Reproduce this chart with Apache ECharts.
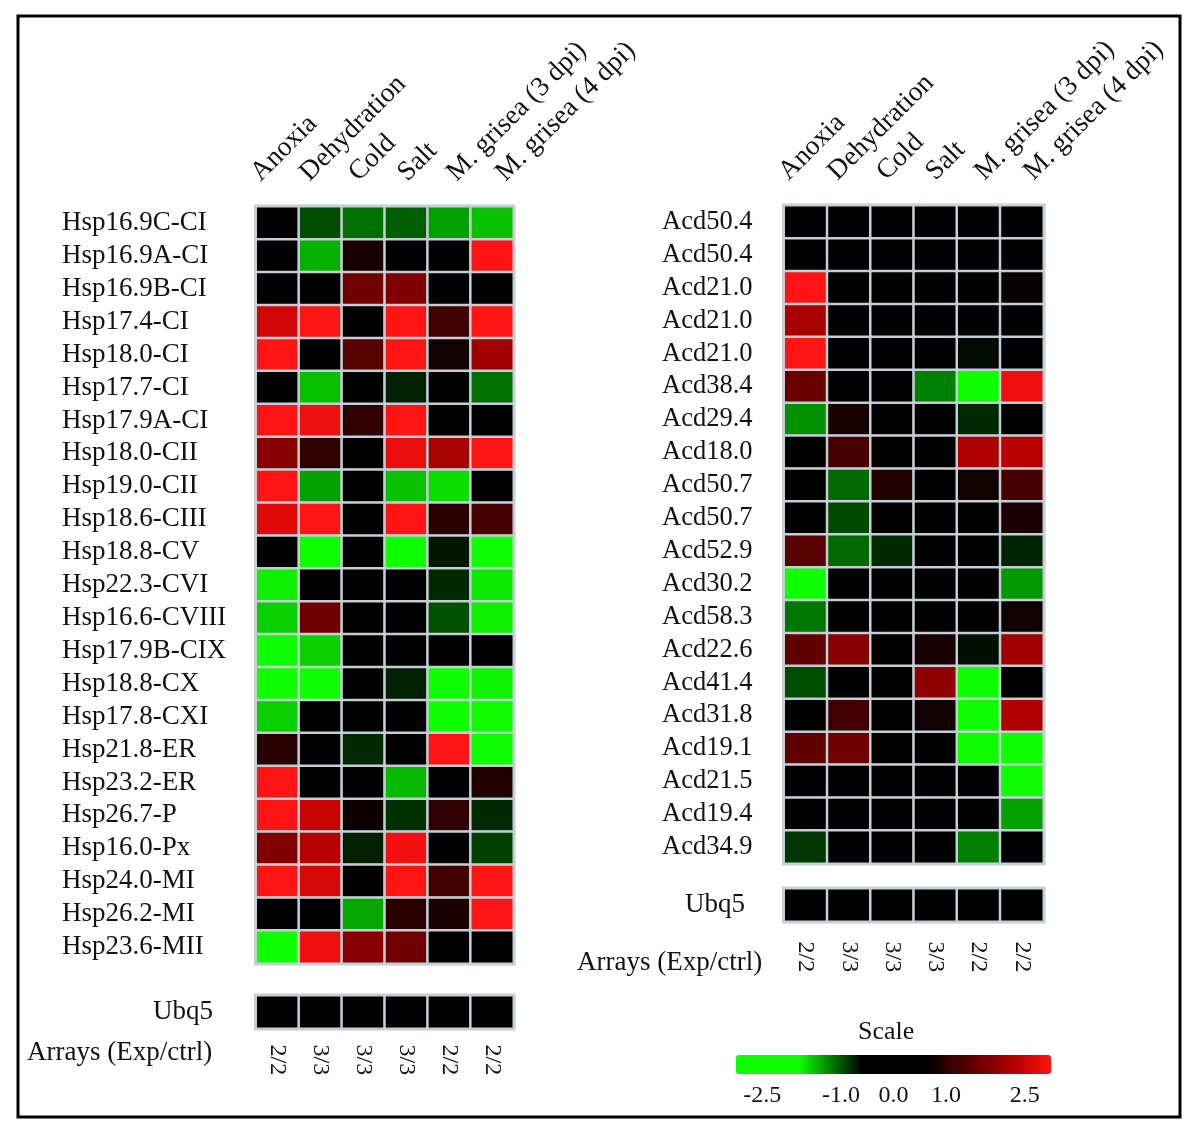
<!DOCTYPE html>
<html>
<head>
<meta charset="utf-8">
<script src="https://cdn.jsdelivr.net/npm/echarts@6/dist/echarts.min.js"></script>
<style>
html,body{margin:0;padding:0;background:#fff;}
#chart{width:1200px;height:1136px;}
</style>
</head>
<body>
<div id="chart"></div>
<script>
// ---------- data ----------
const conditions = ['Anoxia', 'Dehydration', 'Cold', 'Salt', 'M. grisea (3 dpi)', 'M. grisea (4 dpi)'];
const arrayCounts = ['2/2', '3/3', '3/3', '3/3', '2/2', '2/2'];
const scaleTicks = [-2.5, -1.0, 0.0, 1.0, 2.5];

const hspGenes = ['Hsp16.9C-CI', 'Hsp16.9A-CI', 'Hsp16.9B-CI', 'Hsp17.4-CI', 'Hsp18.0-CI', 'Hsp17.7-CI',
  'Hsp17.9A-CI', 'Hsp18.0-CII', 'Hsp19.0-CII', 'Hsp18.6-CIII', 'Hsp18.8-CV', 'Hsp22.3-CVI',
  'Hsp16.6-CVIII', 'Hsp17.9B-CIX', 'Hsp18.8-CX', 'Hsp17.8-CXI', 'Hsp21.8-ER', 'Hsp23.2-ER',
  'Hsp26.7-P', 'Hsp16.0-Px', 'Hsp24.0-MI', 'Hsp26.2-MI', 'Hsp23.6-MII'];

// rows = genes, columns = conditions (log ratio exp/ctrl)
const hspValues = [
  [0.1, -0.96, -1.13, -1.05, -1.35, -1.50],
  [0.0, -1.43, 0.83, 0.2, -0.1, 3.0],
  [-0.1, 0.2, 1.65, 1.80, 0.1, 0.3],
  [2.56, 3.0, 0.1, 3.0, 1.20, 3.0],
  [3.0, 0.2, 1.43, 3.0, 0.75, 2.11],
  [0.1, -1.50, 0.2, -0.75, 0.0, -1.13],
  [3.0, 2.84, 1.05, 3.0, 0.1, 0.3],
  [1.88, 1.05, 0.2, 2.82, 2.18, 3.0],
  [3.0, -1.35, 0.1, -1.50, -1.65, 0.2],
  [2.71, 3.0, 0.1, 3.0, 0.98, 1.28],
  [0.2, -2.4, 0.0, -2.5, -0.71, -2.3],
  [-1.73, 0.1, 0.2, 0.1, -0.79, -1.69],
  [-1.58, 1.65, 0.1, 0.2, -0.98, -1.73],
  [-2.2, -1.58, 0.2, 0.1, 0.0, 0.3],
  [-2.1, -2.3, 0.2, -0.75, -2.4, -1.75],
  [-1.58, 0.1, 0.2, 0.3, -2.2, -1.78],
  [0.98, 0.2, -0.79, 0.1, 3.0, -2.3],
  [3.0, 0.1, 0.2, -1.47, 0.3, 0.90],
  [3.0, 2.48, 0.73, -0.83, 1.05, -0.79],
  [1.80, 2.33, -0.75, 2.91, 0.2, -0.90],
  [3.0, 2.63, 0.1, 3.0, 1.20, 3.0],
  [0.2, 0.1, -1.39, 0.98, 0.86, 3.0],
  [-2.2, 2.86, 1.88, 1.65, 0.2, 0.1]
];

const acdGenes = ['Acd50.4', 'Acd50.4', 'Acd21.0', 'Acd21.0', 'Acd21.0', 'Acd38.4', 'Acd29.4',
  'Acd18.0', 'Acd50.7', 'Acd50.7', 'Acd52.9', 'Acd30.2', 'Acd58.3', 'Acd22.6', 'Acd41.4',
  'Acd31.8', 'Acd19.1', 'Acd21.5', 'Acd19.4', 'Acd34.9'];

const acdValues = [
  [0.1, 0.2, 0.0, 0.1, 0.2, 0.3],
  [0.2, 0.1, 0.0, 0.2, 0.1, 0.2],
  [3.0, 0.2, 0.1, 0.3, 0.2, 0.68],
  [2.18, 0.1, 0.2, 0.1, 0.3, 0.2],
  [3.0, 0.2, 0.1, 0.2, -0.64, 0.1],
  [1.58, 0.1, 0.2, -1.20, -2.3, 2.86],
  [-1.28, 0.83, 0.1, 0.2, -0.79, 0.1],
  [0.2, 1.28, 0.1, 0.3, 2.26, 2.33],
  [0.1, -1.09, 0.90, 0.2, 0.75, 1.28],
  [0.2, -0.94, 0.1, 0.2, 0.3, 0.86],
  [1.43, -1.09, -0.79, 0.1, 0.2, -0.77],
  [-2.2, 0.1, 0.2, 0.1, 0.3, -1.32],
  [-1.16, 0.2, 0.1, 0.3, 0.2, 0.75],
  [1.50, 1.88, 0.2, 0.83, -0.68, 2.11],
  [-0.96, 0.1, 0.2, 1.96, -2.2, 0.3],
  [0.2, 1.20, 0.1, 0.75, -2.3, 2.26],
  [1.50, 1.65, 0.2, 0.1, -2.1, -2.4],
  [0.1, 0.2, 0.3, 0.1, 0.2, -2.2],
  [0.2, 0.1, 0.2, 0.3, 0.1, -1.35],
  [-0.86, 0.1, 0.2, 0.3, -1.20, 0.1]
];

const ubq5Hsp = [0.0, 0.0, 0.0, 0.0, 0.0, 0.0];
const ubq5Acd = [0.0, 0.0, 0.0, 0.0, 0.0, 0.0];

// ---------- helpers ----------
function toCells(matrix) {
  const out = [];
  matrix.forEach((row, r) => row.forEach((v, c) => out.push([c, r, v])));
  return out;
}
const FONT = "'Liberation Serif', 'Times New Roman', serif";
const TXT = '#111';
const CELL_BORDER = '#c3ced6';

const heatStyle = { borderColor: CELL_BORDER, borderWidth: 2.5 };
function hiddenCat(gridIndex, data) {
  return { gridIndex, type: 'category', data: data || [''], show: false };
}

const option = {
  backgroundColor: '#fff',
  animation: false,
  title: [
    { text: 'Arrays (Exp/ctrl)', left: 27, top: 1039, padding: 0,
      textStyle: { fontFamily: FONT, fontSize: 27, fontWeight: 'normal', color: TXT } },
    { text: 'Arrays (Exp/ctrl)', left: 577, top: 949, padding: 0,
      textStyle: { fontFamily: FONT, fontSize: 27, fontWeight: 'normal', color: TXT } },
    { text: 'Scale', left: 858, top: 1019, padding: 0,
      textStyle: { fontFamily: FONT, fontSize: 26, fontWeight: 'normal', color: TXT } }
  ],
  grid: [
    { left: 256, top: 206.5, width: 257.5, height: 757, show: true, borderColor: CELL_BORDER, borderWidth: 4, backgroundColor: 'transparent' },
    { left: 256, top: 995.5, width: 257.5, height: 33, show: true, borderColor: CELL_BORDER, borderWidth: 4, backgroundColor: 'transparent' },
    { left: 784, top: 205.5, width: 259.5, height: 658, show: true, borderColor: CELL_BORDER, borderWidth: 4, backgroundColor: 'transparent' },
    { left: 784, top: 888.5, width: 259.5, height: 33, show: true, borderColor: CELL_BORDER, borderWidth: 4, backgroundColor: 'transparent' },
    { left: 231, top: 206, width: 294, height: 1 },
    { left: 759, top: 205, width: 294, height: 1 },
    { left: 736, top: 1055, width: 315, height: 19 },
    { left: 18, top: 16, width: 1162, height: 1101, show: true, borderColor: '#000', borderWidth: 3, backgroundColor: 'transparent' }
  ],
  xAxis: [
    { gridIndex: 0, type: 'category', data: conditions, position: 'top', axisLine: { show: false }, axisTick: { show: false }, axisLabel: { show: false }, splitLine: { show: false } },
    { gridIndex: 1, type: 'category', data: conditions, position: 'bottom', axisLine: { show: false }, axisTick: { show: false }, splitLine: { show: false },
      axisLabel: { rotate: -90, margin: 16, interval: 0, fontFamily: FONT, fontSize: 24, color: TXT, formatter: (v, i) => arrayCounts[i] } },
    { gridIndex: 2, type: 'category', data: conditions, position: 'top', axisLine: { show: false }, axisTick: { show: false }, axisLabel: { show: false }, splitLine: { show: false } },
    { gridIndex: 3, type: 'category', data: conditions, position: 'bottom', axisLine: { show: false }, axisTick: { show: false }, splitLine: { show: false },
      axisLabel: { rotate: -90, margin: 20, interval: 0, fontFamily: FONT, fontSize: 24, color: TXT, formatter: (v, i) => arrayCounts[i] } },
    { gridIndex: 4, type: 'category', data: conditions, position: 'top', axisLine: { show: false }, axisTick: { show: false },
      axisLabel: { rotate: -45, margin: 29, interval: 0, fontFamily: FONT, fontSize: 27.5, color: TXT } },
    { gridIndex: 5, type: 'category', data: conditions, position: 'top', axisLine: { show: false }, axisTick: { show: false },
      axisLabel: { rotate: -45, margin: 29, interval: 0, fontFamily: FONT, fontSize: 27.5, color: TXT } },
    { gridIndex: 6, type: 'value', min: -3, max: 3, interval: 0.5, position: 'bottom', axisLine: { show: false }, axisTick: { show: false }, splitLine: { show: false },
      axisLabel: { margin: 10, fontFamily: FONT, fontSize: 24, color: TXT, showMinLabel: true, showMaxLabel: true,
        formatter: v => scaleTicks.some(t => Math.abs(t - v) < 1e-6) ? v.toFixed(1) : '' } },
    hiddenCat(7)
  ],
  yAxis: [
    { gridIndex: 0, type: 'category', data: hspGenes, inverse: true, axisLine: { show: false }, axisTick: { show: false }, splitLine: { show: false },
      axisLabel: { align: 'left', margin: 194, interval: 0, fontFamily: FONT, fontSize: 27, color: TXT } },
    { gridIndex: 1, type: 'category', data: ['Ubq5'], axisLine: { show: false }, axisTick: { show: false },
      axisLabel: { margin: 43, fontFamily: FONT, fontSize: 27, color: TXT } },
    { gridIndex: 2, type: 'category', data: acdGenes, inverse: true, axisLine: { show: false }, axisTick: { show: false }, splitLine: { show: false },
      axisLabel: { align: 'left', margin: 122, interval: 0, fontFamily: FONT, fontSize: 26.5, color: TXT } },
    { gridIndex: 3, type: 'category', data: ['Ubq5'], axisLine: { show: false }, axisTick: { show: false },
      axisLabel: { margin: 39, fontFamily: FONT, fontSize: 27, color: TXT } },
    hiddenCat(4), hiddenCat(5), hiddenCat(6), hiddenCat(7)
  ],
  visualMap: {
    type: 'continuous',
    min: -3, max: 3,
    orient: 'horizontal',
    left: 736, top: 1055,
    itemWidth: 19, itemHeight: 315,
    calculable: false,
    hoverLink: false,
    padding: 0,
    text: null,
    seriesIndex: [0, 1, 2, 3],
    inRange: {
      color: ['#10ff00', '#10ff00', '#10ff00', '#008000', '#000000', '#000000', '#000000',
              '#400000', '#800000', '#c00000', '#ff1414']
    }
  },
  series: [
    { type: 'heatmap', xAxisIndex: 0, yAxisIndex: 0, data: toCells(hspValues), itemStyle: heatStyle, emphasis: { disabled: true } },
    { type: 'heatmap', xAxisIndex: 1, yAxisIndex: 1, data: toCells([ubq5Hsp]), itemStyle: heatStyle, emphasis: { disabled: true } },
    { type: 'heatmap', xAxisIndex: 2, yAxisIndex: 2, data: toCells(acdValues), itemStyle: heatStyle, emphasis: { disabled: true } },
    { type: 'heatmap', xAxisIndex: 3, yAxisIndex: 3, data: toCells([ubq5Acd]), itemStyle: heatStyle, emphasis: { disabled: true } }
  ]
};

const chart = echarts.init(document.getElementById('chart'), null, { renderer: 'canvas' });
chart.setOption(option);
</script>
</body>
</html>
